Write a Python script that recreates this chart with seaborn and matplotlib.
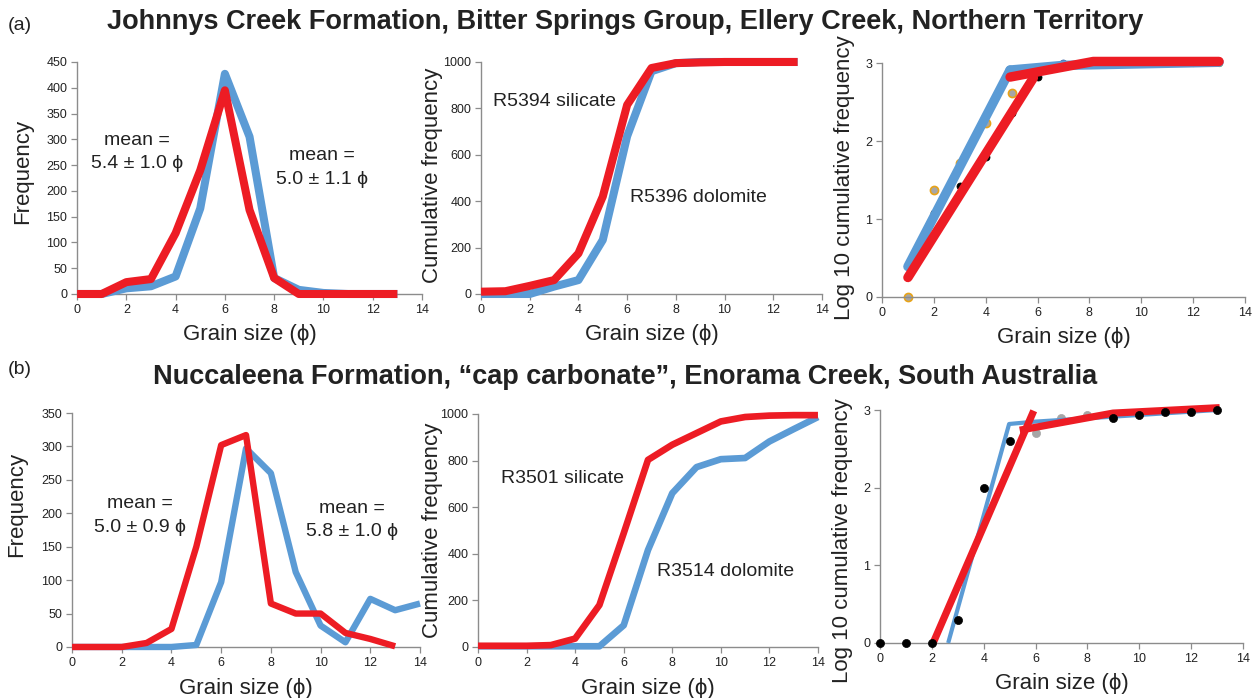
import matplotlib
matplotlib.use("Agg")
import matplotlib.pyplot as plt
import seaborn as sns
import pandas as pd

# ---------------- data ----------------
grain_a = [0, 1, 2, 3, 4, 5, 6, 7, 8, 9, 10, 11, 12, 13]
a_freq_dolomite = [0, 0, 11, 15, 34, 166, 427, 305, 31, 8, 2, 0, 0, 0]
a_freq_silicate = [0, 0, 23, 29, 118, 240, 395, 163, 31, 0, 0, 0, 0, 0]
a_cum_dolomite = [0, 0, 0, 32, 60, 233, 680, 960, 995, 1000, 1000, 1000, 1000, 1000]
a_cum_silicate = [10, 12, 35, 60, 175, 420, 815, 974, 995, 998, 1000, 1000, 1000, 1000]

a_log_sil_x = [1, 2, 3, 4, 5]
a_log_sil_y = [0.0, 1.37, 1.72, 2.23, 2.61]
a_log_dol_x = [2, 3, 4, 5, 6]
a_log_dol_y = [1.08, 1.42, 1.79, 2.36, 2.82]
a_log_extra_x = [7]
a_log_extra_y = [3.0]
a_log_tail_x = [9, 10, 11, 12, 13]
a_log_tail_y = [3.0, 3.0, 3.0, 3.0, 3.0]
a_fit_blue1_x = [1, 4.94]
a_fit_blue1_y = [0.39, 2.91]
a_fit_blue2_x = [4.94, 7, 13]
a_fit_blue2_y = [2.91, 2.97, 3.01]
a_fit_red1_x = [1, 5.84]
a_fit_red1_y = [0.25, 2.81]
a_fit_red2_x = [4.94, 8.15, 13]
a_fit_red2_y = [2.82, 3.02, 3.02]

grain_b = [0, 1, 2, 3, 4, 5, 6, 7, 8, 9, 10, 11, 12, 13, 14]
grain_b_red = [0, 1, 2, 3, 4, 5, 6, 7, 8, 9, 10, 11, 12, 13]
b_freq_dolomite = [0, 0, 0, 0, 0, 3, 97, 297, 260, 112, 32, 7, 72, 55, 65]
b_freq_silicate = [0, 0, 0, 6, 27, 150, 302, 317, 65, 50, 50, 21, 12, 1]
b_cum_dolomite = [3, 3, 3, 3, 3, 3, 93, 416, 660, 772, 806, 811, 882, 935, 987]
b_cum_silicate = [5, 5, 5, 8, 36, 180, 488, 803, 868, 918, 968, 987, 993, 995, 995]

b_log_black_x = [0, 1, 2, 3, 4, 5, 9, 10, 11, 12, 13]
b_log_black_y = [0, 0, 0, 0.3, 2.0, 2.6, 2.9, 2.94, 2.97, 2.98, 3.0]
b_log_gray_x = [6, 7, 8]
b_log_gray_y = [2.7, 2.9, 2.94]
b_fit_blue_x = [2.63, 4.98, 5.97, 13]
b_fit_blue_y = [0, 2.82, 2.85, 3.0]
b_fit_red1_x = [2.05, 5.93]
b_fit_red1_y = [0, 2.99]
b_fit_red2_x = [5.39, 8.99, 13.1]
b_fit_red2_y = [2.74, 2.96, 3.03]

# ---------------- style ----------------
sns.set_style("white")
plt.rcParams['font.family'] = ['Liberation Sans', 'DejaVu Sans']

BLUE = "#5b9bd5"
RED = "#ed1c24"
SPINE = "#8c8c8c"
TXT = "#222222"

fig = plt.figure(figsize=(12.53, 6.98), dpi=100)

def make_ax(rect, ymax, ystep, ylabel, ylab_x, ylab_y, xlab_y):
    ax = fig.add_axes(rect)
    ax.set_xlim(0, 14)
    ax.set_ylim(0, ymax)
    ax.set_xticks(range(0, 15, 2))
    yt = []
    v = 0
    while v <= ymax + 1e-9:
        yt.append(v)
        v += ystep
    ax.set_yticks(yt)
    for s in ["top", "right"]:
        ax.spines[s].set_visible(False)
    for s in ["left", "bottom"]:
        ax.spines[s].set_color(SPINE)
        ax.spines[s].set_linewidth(1.0)
    ax.tick_params(axis="both", which="major", direction="out", length=4, width=0.9,
                   color=SPINE, labelsize=9, labelcolor=TXT, pad=3,
                   bottom=True, left=True)
    ax._ylab = (ylabel, ylab_x, ylab_y, xlab_y)
    return ax

def finish(ax):
    ylabel, ylab_x, ylab_y, xlab_y = ax._ylab
    ax.set_xlabel("Grain size (ϕ)", fontsize=16, color=TXT)
    ax.set_ylabel(ylabel, fontsize=16, color=TXT)
    ax.xaxis.set_label_coords(0.5, xlab_y)
    ax.yaxis.set_label_coords(ylab_x, ylab_y)

def line(ax, x, y, color, lw, cap="butt", zorder=3):
    df = pd.DataFrame({"x": x, "y": y})
    sns.lineplot(data=df, x="x", y="y", ax=ax, color=color, linewidth=lw,
                 sort=False, estimator=None, zorder=zorder, clip_on=False,
                 solid_capstyle=cap, solid_joinstyle="round")

def mean_text(ax, x, y, txt):
    ax.text(x, y, txt, ha="center", va="center", fontsize=14, color=TXT, linespacing=1.5)

# ---- row (a) ----
ax1 = make_ax([0.0615, 0.5788, 0.2753, 0.3324], 450, 50, "Frequency", -0.128, 0.53, -0.13)
line(ax1, grain_a, a_freq_dolomite, BLUE, 5.8)
line(ax1, grain_a, a_freq_silicate, RED, 5.8)
mean_text(ax1, 2.45, 275, "mean =\n5.4 ± 1.0 ϕ")
mean_text(ax1, 9.95, 245, "mean =\n5.0 ± 1.1 ϕ")

ax2 = make_ax([0.3839, 0.5788, 0.2721, 0.3324], 1000, 200, "Cumulative frequency", -0.111, 0.51, -0.13)
line(ax2, grain_a, a_cum_dolomite, BLUE, 5.8)
line(ax2, grain_a, a_cum_silicate, RED, 5.8)
ax2.text(0.49, 828, "R5394 silicate", ha="left", va="center", fontsize=14, color=TXT)
ax2.text(6.12, 418, "R5396 dolomite", ha="left", va="center", fontsize=14, color=TXT)

ax3 = make_ax([0.7039, 0.5745, 0.2897, 0.3352], 3, 1, "Log 10 cumulative frequency", -0.074, 0.51, -0.13)
sns.scatterplot(x=a_log_sil_x, y=a_log_sil_y, ax=ax3, color="#a6a6a6", edgecolor="#e8a317",
                linewidth=1.2, s=34, zorder=2, clip_on=False)
sns.scatterplot(x=a_log_dol_x, y=a_log_dol_y, ax=ax3, color="black", edgecolor="black",
                linewidth=0.5, s=26, zorder=2, clip_on=False)
sns.scatterplot(x=a_log_extra_x, y=a_log_extra_y, ax=ax3, color="#5b7fbf", edgecolor="#3a5fa0",
                linewidth=0.5, s=26, zorder=2, clip_on=False)
sns.scatterplot(x=a_log_tail_x, y=a_log_tail_y, ax=ax3, color="#70ad47", edgecolor="#70ad47",
                linewidth=0.5, s=22, zorder=2, clip_on=False)
line(ax3, a_fit_blue1_x, a_fit_blue1_y, BLUE, 6.8, cap="round", zorder=3)
line(ax3, a_fit_blue2_x, a_fit_blue2_y, BLUE, 6.8, cap="round", zorder=3)
line(ax3, a_fit_red1_x, a_fit_red1_y, RED, 6.8, cap="round", zorder=4)
line(ax3, a_fit_red2_x, a_fit_red2_y, RED, 6.8, cap="round", zorder=4)

# ---- row (b) ----
ax4 = make_ax([0.0575, 0.0731, 0.2777, 0.3352], 350, 50, "Frequency", -0.129, 0.61, -0.132)
line(ax4, grain_b, b_freq_dolomite, BLUE, 4.6)
line(ax4, grain_b_red, b_freq_silicate, RED, 4.6)
mean_text(ax4, 2.75, 197, "mean =\n5.0 ± 0.9 ϕ")
mean_text(ax4, 11.27, 190, "mean =\n5.8 ± 1.0 ϕ")

ax5 = make_ax([0.3815, 0.0731, 0.2713, 0.3338], 1000, 200, "Cumulative frequency", -0.103, 0.50, -0.132)
line(ax5, grain_b, b_cum_dolomite, BLUE, 4.8)
line(ax5, grain_b, b_cum_silicate, RED, 4.8)
ax5.text(0.95, 725, "R3501 silicate", ha="left", va="center", fontsize=14, color=TXT)
ax5.text(7.37, 322, "R3514 dolomite", ha="left", va="center", fontsize=14, color=TXT)

ax6 = make_ax([0.7023, 0.0788, 0.2897, 0.3338], 3, 1, "Log 10 cumulative frequency", -0.074, 0.44, -0.13)
sns.scatterplot(x=b_log_gray_x, y=b_log_gray_y, ax=ax6, color="#a6a6a6", edgecolor="#a6a6a6",
                linewidth=0.5, s=34, zorder=2, clip_on=False)
sns.scatterplot(x=b_log_black_x, y=b_log_black_y, ax=ax6, color="black", edgecolor="black",
                linewidth=0.5, s=34, zorder=5, clip_on=False)
line(ax6, b_fit_blue_x, b_fit_blue_y, BLUE, 3.0, zorder=3)
line(ax6, b_fit_red1_x, b_fit_red1_y, RED, 5.2, zorder=4)
line(ax6, b_fit_red2_x, b_fit_red2_y, RED, 5.2, zorder=4)

for ax in [ax1, ax2, ax3, ax4, ax5, ax6]:
    finish(ax)

# ---- titles ----
fig.text(0.006, 0.964, "(a)", ha="left", va="center", fontsize=14, color=TXT)
fig.text(0.499, 0.968, "Johnnys Creek Formation, Bitter Springs Group, Ellery Creek, Northern Territory",
         ha="center", va="center", fontsize=19.5, fontweight="bold", color=TXT)
fig.text(0.006, 0.470, "(b)", ha="left", va="center", fontsize=14, color=TXT)
fig.text(0.499, 0.460, "Nuccaleena Formation, \u201ccap carbonate\u201d, Enorama Creek, South Australia",
         ha="center", va="center", fontsize=19.5, fontweight="bold", color=TXT)

fig.savefig("out.png", dpi=100)
